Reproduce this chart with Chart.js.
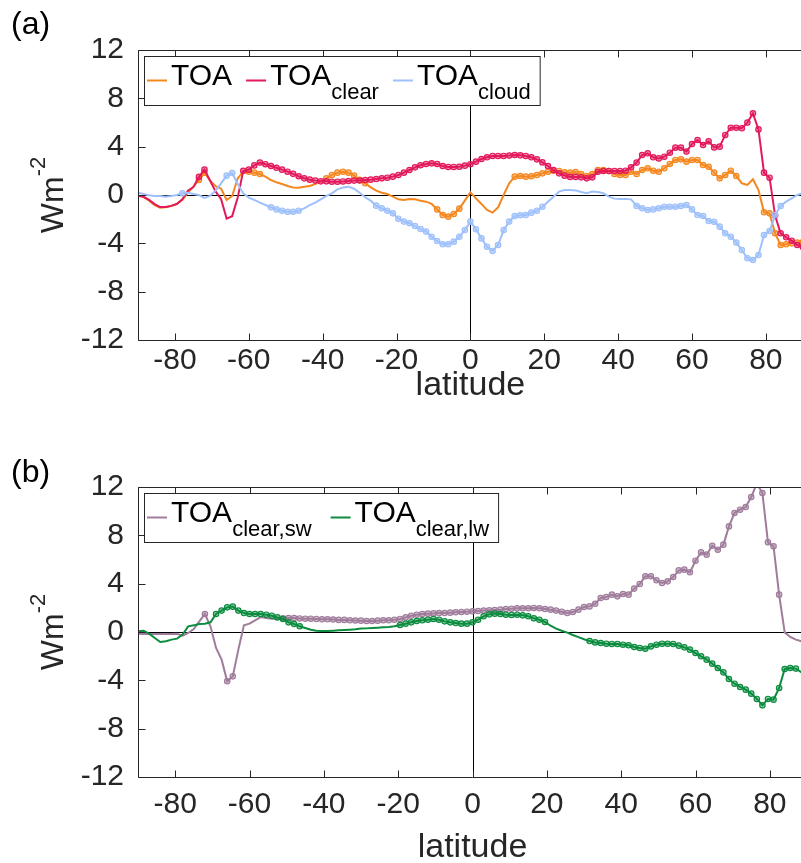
<!DOCTYPE html>
<html>
<head>
<meta charset="utf-8">
<script src="https://cdn.jsdelivr.net/npm/chart.js@4.4.1/dist/chart.umd.min.js"></script>
<style>
  html, body { margin: 0; padding: 0; background: #fff; overflow: hidden; width: 801px; height: 863px; }
  .panel { position: absolute; left: 0; width: 808px; }
  #wrapA { top: 0; height: 431px; }
  #wrapB { top: 431px; height: 432px; }
</style>
</head>
<body>
<div class="panel" id="wrapA"><canvas id="chartA" width="808" height="431"></canvas></div>
<div class="panel" id="wrapB"><canvas id="chartB" width="808" height="432"></canvas></div>
<script>
// latitude grid (1.5 degree)
const latitude = [
  -90, -88.5, -87, -85.5, -84, -82.5, -81, -79.5, -78, -76.5,
  -75, -73.5, -72, -70.5, -69, -67.5, -66, -64.5, -63, -61.5,
  -60, -58.5, -57, -55.5, -54, -52.5, -51, -49.5, -48, -46.5,
  -45, -43.5, -42, -40.5, -39, -37.5, -36, -34.5, -33, -31.5,
  -30, -28.5, -27, -25.5, -24, -22.5, -21, -19.5, -18, -16.5,
  -15, -13.5, -12, -10.5, -9, -7.5, -6, -4.5, -3, -1.5,
  0, 1.5, 3, 4.5, 6, 7.5, 9, 10.5, 12, 13.5,
  15, 16.5, 18, 19.5, 21, 22.5, 24, 25.5, 27, 28.5,
  30, 31.5, 33, 34.5, 36, 37.5, 39, 40.5, 42, 43.5,
  45, 46.5, 48, 49.5, 51, 52.5, 54, 55.5, 57, 58.5,
  60, 61.5, 63, 64.5, 66, 67.5, 69, 70.5, 72, 73.5,
  75, 76.5, 78, 79.5, 81, 82.5, 84, 85.5, 87, 88.5,
  90
];

// panel (a)
const toa = [
  -0.05, -0.15, -0.47, -0.83, -1.05, -1.02, -0.91, -0.74, -0.41, 0.19,
  0.69, 1.24, 1.85, 1.19, 0.74, 0.52, -0.41, -0.08, 1.38, 1.93,
  1.93, 1.85, 1.74, 1.52, 1.24, 1.05, 0.91, 0.74, 0.63, 0.61,
  0.69, 0.74, 0.91, 1.10, 1.38, 1.66, 1.85, 1.93, 1.85, 1.60,
  1.25, 0.97, 0.63, 0.36, 0.19, 0.08, -0.14, -0.36, -0.41, -0.33,
  -0.36, -0.47, -0.55, -0.74, -1.19, -1.66, -1.79, -1.57, -1.13, -0.47,
  0.22, -0.28, -0.74, -1.24, -1.46, -1.02, 0.00, 0.97, 1.52, 1.57,
  1.52, 1.55, 1.66, 1.79, 1.93, 2.01, 1.99, 1.88, 1.85, 1.90,
  1.74, 1.57, 1.74, 2.07, 2.07, 1.99, 1.74, 1.66, 1.66, 1.93,
  1.74, 2.07, 2.21, 2.01, 1.93, 2.21, 2.57, 2.90, 2.95, 2.76,
  2.90, 2.90, 2.48, 2.34, 1.85, 1.38, 1.66, 2.01, 1.57, 0.97,
  0.83, 1.30, 0.41, -1.43, -1.52, -3.17, -4.14, -4.08, -4.00, -3.94,
  -3.90
];
const toaClear = [
  -0.05, -0.15, -0.40, -0.75, -1.00, -1.00, -0.90, -0.75, -0.35, 0.35,
  0.65, 1.50, 2.10, 1.20, 0.30, -0.35, -1.95, -1.75, -0.20, 2.00,
  2.10, 2.45, 2.68, 2.55, 2.40, 2.25, 2.10, 1.93, 1.75, 1.55,
  1.38, 1.27, 1.19, 1.13, 1.13, 1.10, 1.10, 1.12, 1.16, 1.19,
  1.20, 1.24, 1.27, 1.32, 1.38, 1.43, 1.52, 1.66, 1.85, 2.07,
  2.29, 2.46, 2.57, 2.62, 2.57, 2.40, 2.32, 2.32, 2.34, 2.43,
  2.54, 2.76, 2.98, 3.12, 3.23, 3.23, 3.23, 3.26, 3.31, 3.28,
  3.23, 3.12, 2.95, 2.70, 2.40, 2.07, 1.79, 1.60, 1.50, 1.50,
  1.46, 1.38, 1.46, 1.93, 1.99, 1.99, 1.99, 1.99, 2.01, 2.29,
  2.68, 3.31, 3.45, 3.12, 3.03, 3.17, 3.50, 3.92, 3.92, 3.59,
  4.22, 4.55, 4.14, 4.44, 3.94, 4.00, 4.97, 5.57, 5.57, 5.52,
  5.99, 6.76, 5.43, 1.85, 1.43, -1.70, -3.17, -3.50, -3.78, -4.14,
  -4.30
];
const toaCloud = [
  0.19, 0.08, -0.03, -0.08, -0.08, -0.14, -0.08, 0.00, 0.14, 0.19,
  0.08, 0.00, -0.25, -0.08, 0.36, 0.97, 1.60, 1.82, 0.91, 0.14,
  -0.22, -0.41, -0.63, -0.83, -1.02, -1.19, -1.30, -1.38, -1.38, -1.30,
  -1.10, -0.83, -0.63, -0.36, -0.08, 0.14, 0.47, 0.63, 0.69, 0.52,
  0.19, -0.19, -0.47, -0.88, -1.10, -1.30, -1.52, -1.96, -2.20, -2.34,
  -2.57, -2.81, -3.03, -3.45, -3.81, -4.08, -4.08, -3.86, -3.45, -2.90,
  -2.20, -2.84, -3.59, -4.28, -4.63, -4.14, -2.90, -2.20, -1.74, -1.68,
  -1.66, -1.46, -1.30, -0.97, -0.55, -0.14, 0.28, 0.41, 0.41, 0.38,
  0.25, 0.14, 0.28, 0.25, 0.14, -0.14, -0.30, -0.33, -0.33, -0.36,
  -0.91, -1.10, -1.24, -1.19, -1.10, -0.97, -0.97, -0.97, -0.91, -0.83,
  -1.19, -1.66, -1.74, -2.15, -2.21, -2.62, -3.17, -3.45, -3.94, -4.55,
  -5.24, -5.38, -4.97, -3.31, -2.98, -1.66, -0.91, -0.55, -0.28, 0.00,
  0.15
];

// panel (b)
const toaClearSw = [
  -0.14, -0.17, -0.17, -0.17, -0.17, -0.17, -0.17, -0.14, -0.30, -0.08,
  0.25, 0.88, 1.49, 0.47, -1.32, -2.29, -4.08, -3.67, -1.46, 0.55,
  0.69, 0.97, 1.24, 1.16, 1.10, 1.08, 1.13, 1.15, 1.15, 1.12,
  1.10, 1.10, 1.08, 1.05, 1.05, 1.03, 1.00, 1.00, 0.97, 0.95,
  0.94, 0.91, 0.91, 0.94, 0.97, 0.97, 1.02, 1.08, 1.21, 1.35,
  1.43, 1.49, 1.52, 1.54, 1.57, 1.57, 1.60, 1.63, 1.66, 1.68,
  1.71, 1.74, 1.77, 1.79, 1.82, 1.85, 1.90, 1.93, 1.96, 1.96,
  1.96, 1.99, 1.96, 1.90, 1.85, 1.77, 1.68, 1.57, 1.66, 1.85,
  2.07, 2.12, 2.34, 2.81, 2.90, 3.09, 2.95, 3.14, 3.09, 3.59,
  3.97, 4.61, 4.61, 4.28, 4.06, 4.19, 4.55, 5.10, 5.16, 4.94,
  5.90, 6.59, 6.40, 7.14, 6.81, 7.23, 8.74, 9.85, 10.12, 10.34,
  11.17, 12.30, 11.50, 7.42, 7.09, 3.09, -0.03, -0.41, -0.63, -0.77,
  -0.80
];
const toaClearLw = [
  0.06, 0.11, -0.14, -0.50, -0.83, -0.77, -0.63, -0.55, -0.22, 0.47,
  0.55, 0.66, 0.69, 0.80, 1.49, 1.77, 2.04, 2.10, 1.77, 1.57,
  1.49, 1.49, 1.49, 1.43, 1.35, 1.21, 1.08, 0.80, 0.66, 0.47,
  0.33, 0.19, 0.11, 0.08, 0.08, 0.11, 0.14, 0.16, 0.19, 0.22,
  0.28, 0.30, 0.33, 0.36, 0.39, 0.41, 0.47, 0.58, 0.69, 0.80,
  0.91, 0.97, 1.02, 1.08, 1.02, 0.88, 0.80, 0.74, 0.69, 0.69,
  0.80, 1.02, 1.30, 1.46, 1.52, 1.49, 1.43, 1.41, 1.43, 1.38,
  1.30, 1.13, 1.02, 0.83, 0.52, 0.28, 0.10, -0.05, -0.25, -0.42,
  -0.60, -0.75, -0.86, -0.91, -0.97, -0.99, -0.99, -1.05, -1.10, -1.24,
  -1.32, -1.38, -1.19, -1.05, -0.97, -0.97, -0.99, -1.13, -1.27, -1.46,
  -1.74, -2.01, -2.29, -2.62, -2.98, -3.34, -3.89, -4.28, -4.55, -4.77,
  -5.10, -5.54, -6.07, -5.54, -5.60, -4.63, -3.06, -2.98, -3.03, -3.34,
  -3.40
];

// latitude bands where the points are marked
const sigToa = [[-73.5, -72], [-60, -57], [-39, -28.5], [-9, -3], [12, 72], [79.5, 90]];
const sigToaClear = [[-73.5, -72], [-61.5, 90]];
const sigToaCloud = [[-78, -78], [-66, -64.5], [-54, -46.5], [-25.5, 19.5], [45, 84]];
const sigToaClearSw = [[-72, -72], [-66, -64.5], [-51, 82.5]];
const sigToaClearLw = [[-69, -46.5], [-19.5, 19.5], [31.5, 87]];

const xTicks = [-80, -60, -40, -20, 0, 20, 40, 60, 80];
const yTicks = [-12, -8, -4, 0, 4, 8, 12];

const FONT = '"Liberation Sans", Arial, Helvetica, sans-serif';
const AXIS = '#262626';

function inRanges(lat, ranges) {
    return ranges.some(function (r) { return lat >= r[0] - 0.01 && lat <= r[1] + 0.01; });
}

function lineSet(label, values, color, fillColor, sig, order) {
    return {
        label: label,
        data: latitude.map(function (lat, i) { return { x: lat, y: values[i] }; }),
        borderColor: color,
        borderWidth: 2,
        tension: 0,
        fill: false,
        order: order,
        pointRadius: function (c) { return inRanges(latitude[c.dataIndex], sig) ? 2.7 : 0; },
        pointBorderWidth: 1.2,
        pointBorderColor: color,
        pointBackgroundColor: fillColor
    };
}

// axes box, inward ticks, zero lines and all the annotation text
const framePlugin = {
    id: 'frame',
    beforeDatasetsDraw: function (chart) {
        const ctx = chart.ctx, a = chart.chartArea;
        const x0 = Math.round(chart.scales.x.getPixelForValue(0)) + 0.5;
        const y0 = Math.round(chart.scales.y.getPixelForValue(0)) + 0.5;
        ctx.save();
        ctx.strokeStyle = '#000';
        ctx.lineWidth = 1;
        ctx.beginPath();
        ctx.moveTo(a.left, y0); ctx.lineTo(a.right, y0);
        ctx.moveTo(x0, a.top); ctx.lineTo(x0, a.bottom);
        ctx.stroke();
        ctx.restore();
    },
    afterDraw: function (chart, args, opts) {
        const ctx = chart.ctx, a = chart.chartArea;
        const xs = chart.scales.x, ys = chart.scales.y;
        const L = a.left + 0.5, T = a.top + 0.5, B = Math.round(a.bottom) + 0.5;
        ctx.save();

        // box
        ctx.strokeStyle = AXIS;
        ctx.lineWidth = 1;
        ctx.beginPath();
        ctx.moveTo(a.right, T); ctx.lineTo(L, T); ctx.lineTo(L, B); ctx.lineTo(a.right, B);
        xTicks.forEach(function (v) {
            const px = Math.round(xs.getPixelForValue(v)) + 0.5;
            ctx.moveTo(px, T); ctx.lineTo(px, T + 7);
            ctx.moveTo(px, B); ctx.lineTo(px, B - 7);
        });
        yTicks.forEach(function (v) {
            const py = Math.round(ys.getPixelForValue(v)) + 0.5;
            ctx.moveTo(L, py); ctx.lineTo(L + 7, py);
        });
        ctx.stroke();

        // panel tag
        ctx.fillStyle = '#000';
        ctx.textAlign = 'left';
        ctx.textBaseline = 'alphabetic';
        ctx.font = '32px ' + FONT;
        ctx.fillText(opts.tag, 11, a.top - opts.tagGap);

        // x title
        ctx.fillStyle = AXIS;
        ctx.textAlign = 'center';
        ctx.font = '34px ' + FONT;
        ctx.fillText('latitude', xs.getPixelForValue(0), a.bottom + opts.titleGap);

        // y title  Wm^-2
        ctx.save();
        ctx.translate(51, (a.top + a.bottom) / 2);
        ctx.rotate(-Math.PI / 2);
        ctx.textAlign = 'left';
        ctx.font = '32px ' + FONT;
        const w1 = ctx.measureText('Wm').width;
        ctx.font = '22px ' + FONT;
        const w2 = ctx.measureText('-2').width;
        const sx = -(w1 + w2) / 2;
        ctx.font = '32px ' + FONT;
        ctx.fillText('Wm', sx, 12);
        ctx.font = '22px ' + FONT;
        ctx.fillText('-2', sx + w1, -6);
        ctx.restore();

        // legend with subscripts
        const bx = a.left + 6, by = a.top + 6, bh = 49;
        const cy = by + bh / 2, base = by + 29;
        let x = bx + 3;
        const parts = [];
        opts.legend.forEach(function (it) {
            ctx.font = '30px ' + FONT;
            const wm = ctx.measureText(it.main).width;
            ctx.font = '22px ' + FONT;
            const ws = ctx.measureText(it.sub).width;
            parts.push({ it: it, x: x, wm: wm });
            x += 20 + 4 + wm + ws + opts.itemGap;
        });
        const bw = x - opts.itemGap + 9 - bx;
        ctx.fillStyle = '#fff';
        ctx.fillRect(bx, by, bw, bh);
        ctx.strokeStyle = AXIS;
        ctx.strokeRect(bx + 0.5, by + 0.5, bw, bh);
        parts.forEach(function (p) {
            ctx.strokeStyle = p.it.color;
            ctx.lineWidth = 2;
            ctx.beginPath();
            ctx.moveTo(p.x, cy); ctx.lineTo(p.x + 20, cy);
            ctx.stroke();
            ctx.fillStyle = '#000';
            ctx.textAlign = 'left';
            ctx.font = '30px ' + FONT;
            ctx.fillText(p.it.main, p.x + 24, base);
            ctx.font = '22px ' + FONT;
            ctx.fillText(p.it.sub, p.x + 24 + p.wm, base + 13.5);
        });
        ctx.restore();
    }
};

function makePanel(id, height, top, bottom, datasets, frame, tickPad) {
    return new Chart(document.getElementById(id), {
        type: 'line',
        data: { datasets: datasets },
        plugins: [framePlugin],
        options: {
            responsive: false,
            animation: false,
            events: [],
            layout: { padding: { top: top, right: 1, left: 0, bottom: 0 } },
            plugins: {
                legend: { display: false },
                tooltip: { enabled: false },
                frame: frame
            },
            scales: {
                x: {
                    type: 'linear',
                    min: -90,
                    max: 90,
                    grid: { display: false, drawTicks: false },
                    border: { display: false },
                    afterFit: function (s) { s.height = height - bottom; },
                    afterBuildTicks: function (s) { s.ticks = xTicks.map(function (v) { return { value: v }; }); },
                    ticks: { color: AXIS, padding: tickPad, maxRotation: 0, font: { family: FONT, size: 30 } }
                },
                y: {
                    min: -12,
                    max: 12,
                    grid: { display: false, drawTicks: false },
                    border: { display: false },
                    afterFit: function (s) { s.width = 138; },
                    afterBuildTicks: function (s) { s.ticks = yTicks.map(function (v) { return { value: v }; }); },
                    ticks: { color: AXIS, padding: 14, font: { family: FONT, size: 30 } }
                }
            }
        }
    });
}

makePanel('chartA', 431, 50, 340, [
    lineSet('TOA', toa, '#f5871f', 'rgba(245,135,31,0.45)', sigToa, 3),
    lineSet('TOA clear', toaClear, '#e2195b', 'rgba(226,25,91,0.45)', sigToaClear, 2),
    lineSet('TOA cloud', toaCloud, '#9ec0fb', 'rgba(158,192,251,0.5)', sigToaCloud, 1)
], {
    tag: '(a)', tagGap: 16, titleGap: 55, itemGap: 14,
    legend: [
        { main: 'TOA', sub: '', color: '#f5871f' },
        { main: 'TOA', sub: 'clear', color: '#e2195b' },
        { main: 'TOA', sub: 'cloud', color: '#9ec0fb' }
    ]
}, 3);

makePanel('chartB', 432, 56, 346, [
    lineSet('TOA clear,sw', toaClearSw, '#a07c9c', 'rgba(160,124,156,0.45)', sigToaClearSw, 2),
    lineSet('TOA clear,lw', toaClearLw, '#0b8c3f', 'rgba(11,140,63,0.4)', sigToaClearLw, 1)
], {
    tag: '(b)', tagGap: 5, titleGap: 80, itemGap: 19,
    legend: [
        { main: 'TOA', sub: 'clear,sw', color: '#a07c9c' },
        { main: 'TOA', sub: 'clear,lw', color: '#0b8c3f' }
    ]
}, 10);
</script>
</body>
</html>
